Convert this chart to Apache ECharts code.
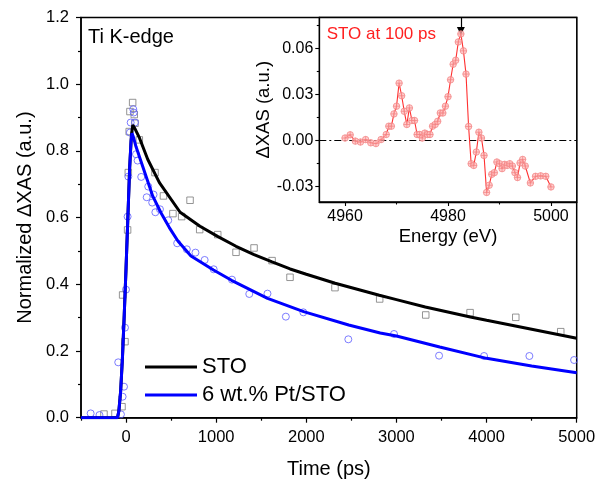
<!DOCTYPE html>
<html><head><meta charset="utf-8">
<script src="https://cdn.jsdelivr.net/npm/echarts@6/dist/echarts.min.js"></script>
<style>html,body{margin:0;padding:0;background:#fff}#c{width:597px;height:479px}</style>
</head><body><div id="c"></div>
<script>
// ---- Main panel: measured points ----
const stoTime = [-245, -123, -45, -38, -12, 17, 25, 35, 43, 73, 91, 99, 147, 321, 415, 520, 617, 710, 817, 1017, 1220, 1420, 1620, 1819, 2318, 2814, 3325, 3817, 4324, 4823];
const stoVal  = [0.011, 0.013, 0.033, 0.368, 0.228, 0.563, 0.735, 0.858, 0.918, 0.945, 0.909, 0.883, 0.833, 0.735, 0.665, 0.612, 0.603, 0.652, 0.564, 0.549, 0.496, 0.509, 0.471, 0.421, 0.390, 0.356, 0.308, 0.315, 0.301, 0.258];
const ptTime = [-393, -295, -87, -57, -38, -23, -12, -1, 17, 25, 43, 51, 80, 85, 99, 110, 128, 168, 229, 246, 290, 305, 325, 376, 468, 567, 674, 770, 872, 972, 1175, 1367, 1569, 1773, 1967, 2466, 2973, 3473, 3972, 4475, 4971];
const ptVal  = [0.013, 0.008, 0.166, 0.010, 0.063, 0.093, 0.270, 0.384, 0.603, 0.723, 0.855, 0.885, 0.925, 0.915, 0.885, 0.790, 0.771, 0.722, 0.661, 0.693, 0.645, 0.669, 0.616, 0.625, 0.592, 0.523, 0.505, 0.495, 0.473, 0.445, 0.414, 0.371, 0.372, 0.303, 0.316, 0.235, 0.251, 0.186, 0.185, 0.185, 0.173];
// ---- Main panel: fit curves ----
const fitStoTime = [-500, -95, -80, -60, -40, -20, 0, 20, 40, 60, 75, 100, 120, 150, 240, 370, 600, 820, 1020, 1220, 1420, 1620, 1820, 2000, 2320, 2810, 3000, 3320, 3820, 4000, 4320, 5000];
const fitStoVal  = [0, 0, 0.02, 0.08, 0.18, 0.31, 0.45, 0.60, 0.75, 0.85, 0.878, 0.866, 0.855, 0.838, 0.775, 0.705, 0.616, 0.574, 0.543, 0.514, 0.489, 0.467, 0.446, 0.430, 0.403, 0.367, 0.354, 0.332, 0.302, 0.292, 0.275, 0.238];
const fitPtTime = [-500, -95, -80, -60, -40, -20, 0, 20, 40, 55, 65, 80, 110, 185, 260, 295, 390, 480, 575, 720, 970, 1170, 1570, 1970, 2470, 2820, 3000, 3480, 4000, 4500, 5000];
const fitPtVal  = [0, 0, 0.02, 0.08, 0.18, 0.31, 0.45, 0.60, 0.75, 0.83, 0.853, 0.843, 0.813, 0.753, 0.693, 0.665, 0.613, 0.570, 0.530, 0.485, 0.443, 0.412, 0.358, 0.318, 0.278, 0.254, 0.245, 0.212, 0.178, 0.155, 0.135];
// ---- Inset: STO at 100 ps ----
const energy = [4960, 4961, 4962, 4963, 4964, 4965, 4966, 4967, 4968,
  4968.5, 4969, 4969.5, 4970, 4970.5, 4971, 4971.5, 4972, 4972.5, 4973, 4973.5, 4974, 4974.5, 4975, 4975.5, 4976, 4976.5, 4977, 4977.5, 4978, 4978.5, 4979, 4979.5, 4980,
  4980.5, 4981, 4981.5, 4982, 4982.5, 4983, 4983.5, 4984, 4984.5, 4985, 4985.5, 4986, 4986.5, 4987, 4987.5, 4988, 4988.5, 4989, 4989.5, 4990,
  4990.5, 4991, 4991.5, 4992, 4992.5, 4993, 4993.5, 4994, 4994.5, 4995, 4996, 4997, 4998, 4999, 5000];
const dxas = [0.0016, 0.0037, -0.0004, -0.0010, 0.0006, -0.0015, -0.0020, 0.0006, 0.0039,
  0.0093, 0.0093, 0.0173, 0.0223, 0.0373, 0.0291, 0.0190, 0.0104, 0.0212, 0.0130, 0.0130, 0.0039, 0.0039, 0.0016, 0.0048, 0.0039, 0.0039, 0.0093, 0.0104, 0.0125, 0.0179, 0.0179, 0.0223, 0.0285,
  0.0395, 0.0496, 0.0522, 0.0641, 0.0693, 0.0583, 0.0432, 0.0091, -0.0151, -0.0162, -0.0075, 0.0054, 0.0016, -0.0097, -0.0338, -0.0291, -0.0220, -0.0209, -0.0140, -0.0151,
  -0.0183, -0.0155, -0.0162, -0.0151, -0.0166, -0.0209, -0.0241, -0.0146, -0.0123, -0.0166, -0.0276, -0.0233, -0.0230, -0.0233, -0.0302];
const peakEnergy = 4982.5;
// ---- Tick labels ----
const mainXMajor = [0, 1000, 2000, 3000, 4000, 5000];
const mainXMinor = [-500, 500, 1500, 2500, 3500, 4500];
const insetXMajor = [4960, 4980, 5000];
const insetXMinor = [4970, 4990];
const insetYMajor = [-0.03, 0, 0.03, 0.06];
const insetYMinor = [-0.015, 0.015, 0.045, 0.075];

const FONT = '"Liberation Sans", Arial, sans-serif';
const pairs = (x, y) => x.map((v, i) => [v, y[i]]);
const blk = '#000';
const chart = echarts.init(document.getElementById('c'));

function valAxis(o) {
  const base = {
    type: 'value', splitLine: {show: false},
    axisLine: {show: true, onZero: false, lineStyle: {color: blk, width: 1.5}},
    axisTick: {show: true, lineStyle: {color: blk, width: 1.2}},
    axisLabel: {color: blk, fontFamily: FONT},
    nameTextStyle: {color: blk, fontFamily: FONT}
  };
  const r = Object.assign(base, o);
  r.axisLine = Object.assign({onZero: false}, r.axisLine);
  return r;
}

const crossCircle = 'path://M10,0A10,10,0,1,1,-10,0A10,10,0,1,1,10,0ZM-10,0L10,0M0,-10L0,10';
const plain = v => String(v);

const option = {
  animation: false,
  textStyle: {fontFamily: FONT},
  grid: [
    {left: 81, top: 17.5, right: 20.3, bottom: 61.3, show: true, borderColor: blk, borderWidth: 1.5, backgroundColor: 'rgba(0,0,0,0)', containLabel: false, outerBoundsMode: 'none'},
    {left: 319.3, top: 17.5, right: 20.3, bottom: 277, show: true, borderColor: blk, borderWidth: 1.3, backgroundColor: '#fff', containLabel: false, outerBoundsMode: 'none'}
  ],
  xAxis: [
    valAxis({gridIndex: 0, position: 'bottom', min: -500, max: 5000,
      axisLine: {show: true, onZero: false, lineStyle: {color: blk, width: 1.5}},
      axisTick: {customValues: mainXMajor, length: 5, lineStyle: {color: blk, width: 1.2}},
      axisLabel: {customValues: mainXMajor, color: blk, fontSize: 16.5, margin: 11, fontFamily: FONT, formatter: plain},
      name: 'Time (ps)', nameLocation: 'middle', nameGap: 42, nameTextStyle: {fontSize: 20, color: blk, fontFamily: FONT}}),
    valAxis({gridIndex: 0, position: 'bottom', offset: 0, min: -500, max: 5000, axisLine: {show: false, onZero: false},
      axisTick: {customValues: mainXMinor, length: 3, lineStyle: {color: blk, width: 1.2}}, axisLabel: {show: false}}),
    valAxis({gridIndex: 1, position: 'bottom', min: 4955, max: 5005,
      axisLine: {show: true, onZero: false, lineStyle: {color: blk, width: 1.3}},
      axisTick: {customValues: insetXMajor, length: 4, lineStyle: {color: blk, width: 1.1}},
      axisLabel: {customValues: insetXMajor, color: blk, fontSize: 16, margin: 7, fontFamily: FONT, formatter: plain},
      name: 'Energy (eV)', nameLocation: 'middle', nameGap: 25, nameTextStyle: {fontSize: 18.5, color: blk, fontFamily: FONT}}),
    valAxis({gridIndex: 1, position: 'bottom', offset: 0, min: 4955, max: 5005, axisLine: {show: false, onZero: false},
      axisTick: {customValues: insetXMinor, length: 2.5, lineStyle: {color: blk, width: 1.1}}, axisLabel: {show: false}})
  ],
  yAxis: [
    valAxis({gridIndex: 0, position: 'left', min: 0, max: 1.2, interval: 0.2,
      axisLine: {show: true, onZero: false, lineStyle: {color: blk, width: 1.5}},
      axisTick: {length: 5, lineStyle: {color: blk, width: 1.2}},
      minorTick: {show: true, splitNumber: 2, length: 3, lineStyle: {color: blk, width: 1.2}},
      axisLabel: {color: blk, fontSize: 16.5, margin: 12, fontFamily: FONT, formatter: v => v.toFixed(1)},
      name: 'Normalized \u0394XAS (a.u.)', nameLocation: 'middle', nameGap: 37, nameTextStyle: {fontSize: 20, color: blk, fontFamily: FONT}}),
    valAxis({gridIndex: 0, position: 'left', min: 0, max: 1.2, show: false, axisLine: {show: false, onZero: false}}),
    valAxis({gridIndex: 1, position: 'left', min: -0.04, max: 0.08,
      axisLine: {show: true, onZero: false, lineStyle: {color: blk, width: 1.3}},
      axisTick: {customValues: insetYMajor, length: 4, lineStyle: {color: blk, width: 1.1}},
      axisLabel: {customValues: insetYMajor, color: blk, fontSize: 16, margin: 6, fontFamily: FONT, formatter: v => v.toFixed(2)},
      name: '\u0394XAS (a.u.)', nameLocation: 'middle', nameGap: 38, nameTextStyle: {fontSize: 18.5, color: blk, fontFamily: FONT}}),
    valAxis({gridIndex: 1, position: 'left', offset: 0, min: -0.04, max: 0.08, axisLine: {show: false, onZero: false},
      axisTick: {customValues: insetYMinor, length: 2.5, lineStyle: {color: blk, width: 1.1}}, axisLabel: {show: false}})
  ],
  legend: {
    data: ['STO', '6 wt.% Pt/STO'], orient: 'vertical', left: 145, top: 356, padding: 0,
    icon: 'rect', itemWidth: 52, itemHeight: 3, itemGap: 6,
    textStyle: {fontSize: 22, color: blk, fontFamily: FONT}
  },
  graphic: [
    {type: 'text', left: 88, top: 27, z: 100, style: {text: 'Ti K-edge', fill: blk, font: '20px "Liberation Sans", Arial, sans-serif'}},
    {type: 'text', left: 326.7, top: 25.5, z: 100, style: {text: 'STO at 100 ps', fill: '#ff2020', font: '17px "Liberation Sans", Arial, sans-serif'}}
  ],
  series: [
    {type: 'scatter', name: 'STO data', xAxisIndex: 0, yAxisIndex: 0, data: pairs(stoTime, stoVal), symbol: 'rect', symbolSize: 6.5,
      itemStyle: {color: 'rgba(0,0,0,0)', borderColor: '#7a7a7a', borderWidth: 1}, silent: true},
    {type: 'scatter', name: 'Pt data', xAxisIndex: 0, yAxisIndex: 0, data: pairs(ptTime, ptVal), symbol: 'circle', symbolSize: 7,
      itemStyle: {color: 'rgba(0,0,0,0)', borderColor: '#5c5cff', borderWidth: 1}, silent: true},
    {type: 'line', name: 'STO', xAxisIndex: 0, yAxisIndex: 0, data: pairs(fitStoTime, fitStoVal), symbol: 'none', showSymbol: false,
      smooth: false, lineStyle: {color: blk, width: 3}, itemStyle: {color: blk}, silent: true},
    {type: 'line', name: '6 wt.% Pt/STO', xAxisIndex: 0, yAxisIndex: 0, data: pairs(fitPtTime, fitPtVal), symbol: 'none', showSymbol: false,
      smooth: false, lineStyle: {color: '#0000ff', width: 3}, itemStyle: {color: '#0000ff'}, silent: true},
    {type: 'line', name: 'inset', xAxisIndex: 2, yAxisIndex: 2, data: pairs(energy, dxas), symbol: crossCircle, symbolSize: 6.5, showSymbol: true,
      lineStyle: {color: '#ff3030', width: 1.1}, itemStyle: {color: 'rgba(255,185,185,0.7)', borderColor: '#f28080', borderWidth: 0.7}, silent: true, z: 5,
      markLine: {silent: true, symbol: ['none', 'none'], label: {show: false}, animation: false,
        data: [
          {yAxis: 0, lineStyle: {color: blk, width: 1.2, type: [7, 3, 2, 3]}},
          [{coord: [peakEnergy, 0.08], symbol: 'none', lineStyle: {color: blk, width: 1.2, type: 'solid'}},
           {coord: [peakEnergy, 0.0712], symbol: 'triangle', symbolSize: 8}]
        ]}}
  ]
};
chart.setOption(option);
</script></body></html>
